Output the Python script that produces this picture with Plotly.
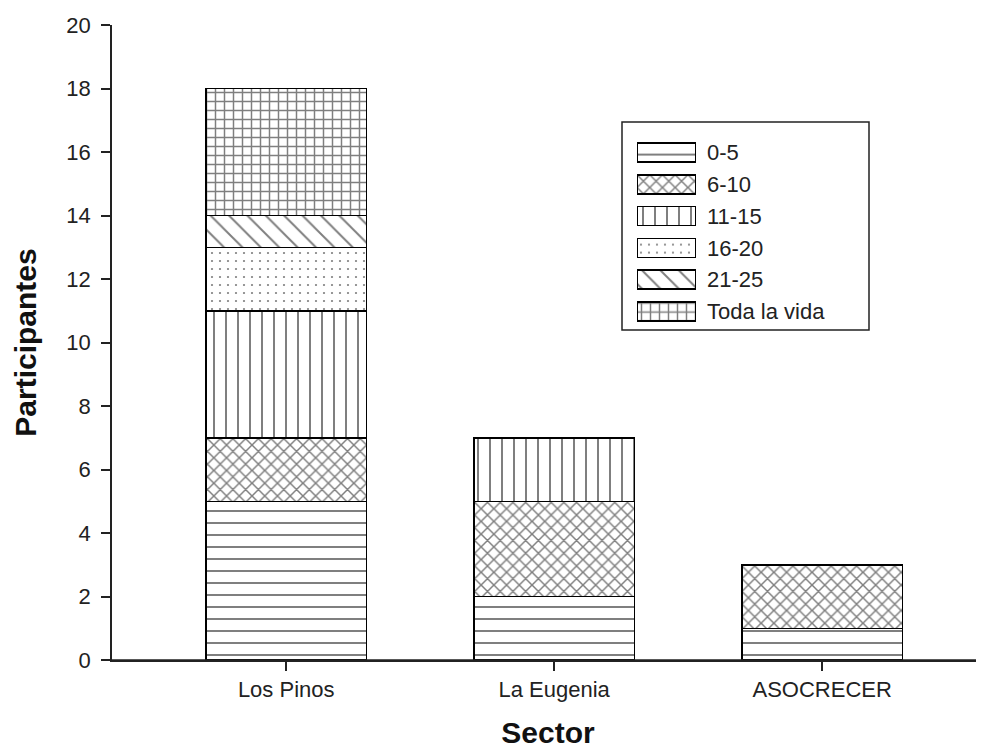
import plotly.graph_objects as go

sectors = ["Los Pinos", "La Eugenia", "ASOCRECER"]
groups = ["0-5", "6-10", "11-15", "16-20", "21-25", "Toda la vida"]
v_0_5 = [5, 2, 1]
v_6_10 = [2, 3, 2]
v_11_15 = [4, 2, 0]
v_16_20 = [2, 0, 0]
v_21_25 = [1, 0, 0]
v_toda = [4, 0, 0]
series = [v_0_5, v_6_10, v_11_15, v_16_20, v_21_25, v_toda]
swatch_len = [1]  # legend swatch length on the legend axis

patterns = [
    dict(shape="-", size=12, solidity=0.167),
    dict(shape="x", size=9, solidity=0.3),
    dict(shape="|", size=12, solidity=0.167),
    dict(shape=".", size=8, solidity=0.06),
    dict(shape="\\", size=13, solidity=0.15),
    dict(shape="+", size=9, solidity=0.3),
]

fig = go.Figure()
for name, vals, pat in zip(groups, series, patterns):
    marker = dict(color="white",
                  line=dict(color="black", width=1.5),
                  pattern=dict(fgcolor="black", bgcolor="white",
                               fillmode="overlay", **pat))
    fig.add_trace(go.Bar(
        x=sectors, y=vals, name=name, width=0.6, marker=marker,
        showlegend=False,
    ))
    # legend swatch
    fig.add_trace(go.Bar(
        x=swatch_len, y=[name], orientation="h", xaxis="x2", yaxis="y2",
        marker=marker, showlegend=False, cliponaxis=False, hoverinfo="skip",
    ))

font_family = "Liberation Sans, Arial, sans-serif"
OFF = 8  # default page body margin
W, H = 984 - OFF, 749 - OFF
L, R, T, B = 112 - OFF, 0, 25 - OFF, 89
pw, ph = W - L - R, H - T - B


def px(xpage):
    return (xpage - OFF - L) / pw


def py(ypage):
    return (H - B - (ypage - OFF)) / ph


fig.update_layout(
    width=W, height=H,
    barmode="stack", bargap=0.4,
    plot_bgcolor="white", paper_bgcolor="white",
    margin=dict(l=L, r=R, t=T, b=B),
    font=dict(family=font_family, size=22, color="#222"),
    showlegend=False,
    xaxis=dict(range=[-0.65, 2.604], showline=True, linecolor="#222", linewidth=1.5,
               ticks="outside", ticklen=9, tickcolor="#222", tickwidth=1.5,
               tickfont=dict(size=22),
               title=dict(text="<b>Sector</b>", font=dict(size=30, color="#111"), standoff=21),
               showgrid=False, zeroline=False),
    yaxis=dict(range=[0, 20], dtick=2, showline=True, linecolor="#222", linewidth=1.5,
               ticks="outside", ticklen=9, tickcolor="#222", tickwidth=1.5,
               tickfont=dict(size=22), ticklabelstandoff=6,
               title=dict(text="<b>Participantes</b>", font=dict(size=30, color="#111"), standoff=21),
               showgrid=False, zeroline=False),
    xaxis2=dict(domain=[px(637), px(696)], range=[0, 1], anchor="y2",
                visible=False, fixedrange=True),
    yaxis2=dict(domain=[py(327.4), py(136.6)], anchor="x2", side="right",
                categoryorder="array", categoryarray=groups[::-1],
                showline=False, showgrid=False, zeroline=False, ticks="",
                ticklabelstandoff=10, tickfont=dict(size=22, color="#222"),
                fixedrange=True),
    shapes=[
        dict(type="rect", xref="paper", yref="paper",
             x0=px(622), x1=px(869), y0=py(330), y1=py(122),
             line=dict(color="#222", width=1.5), fillcolor="rgba(0,0,0,0)", layer="below"),
        dict(type="line", xref="paper", yref="paper",
             x0=px(103), x1=1, y0=0, y1=0,
             line=dict(color="#222", width=1.5)),
    ],
)

fig.write_html("out.html")
